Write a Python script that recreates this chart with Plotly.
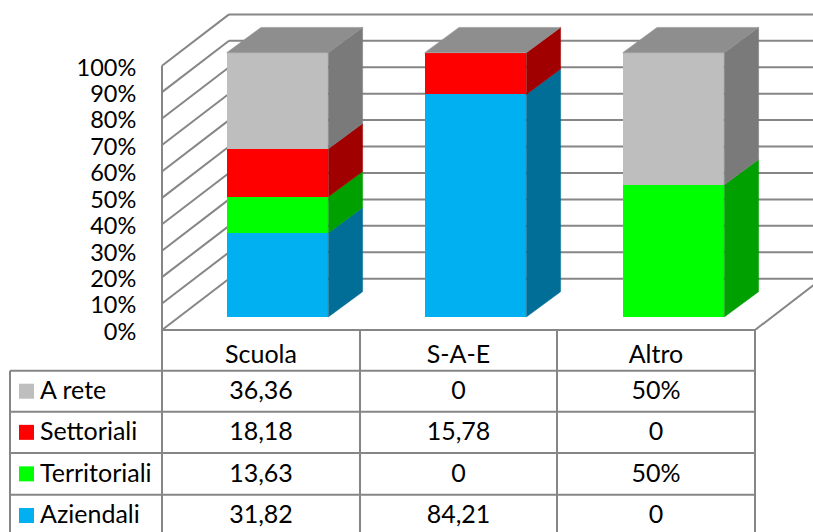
import plotly.graph_objects as go

CATEGORIES = ["Scuola", "S-A-E", "Altro"]
SERIES_NAMES = ["Aziendali", "Territoriali", "Settoriali", "A rete"]
AZIENDALI = [31.82, 84.21, 0]
TERRITORIALI = [13.63, 0, 50]
SETTORIALI = [18.18, 15.78, 0]
A_RETE = [36.36, 0, 50]
SERIES_VALUES = [AZIENDALI, TERRITORIALI, SETTORIALI, A_RETE]
# table cells as printed, the "50%" of Altro included
AZIENDALI_LABELS = ["31,82", "84,21", "0"]
TERRITORIALI_LABELS = ["13,63", "0", "50%"]
SETTORIALI_LABELS = ["18,18", "15,78", "0"]
A_RETE_LABELS = ["36,36", "0", "50%"]
SERIES_LABELS = [AZIENDALI_LABELS, TERRITORIALI_LABELS, SETTORIALI_LABELS, A_RETE_LABELS]
TICKS = [0, 10, 20, 30, 40, 50, 60, 70, 80, 90, 100]

FRONT_COLORS = ["#00B0F0", "#00FF00", "#FF0000", "#BEBEBE"]
SIDE_COLORS = ["#006E96", "#00A000", "#A00000", "#7A7A7A"]
TOP_COLOR = "#8E8E8E"
LINE_COLOR = "#868686"
FONT = "Lato"

WIDTH, HEIGHT = 813, 532


# the axes are set up so that one category step is 198 px and 100% is 264.3 px
def to_x(px):
    return (px - 277.5) / 198


def to_y(py):
    return (317 - py) / 2.643


BAR_WIDTH = 101.6 / 198
BAR_DX = 34.3 / 198
BAR_DY = 25.3 / 2.643
WALL_BASE = to_y(330)
WALL_DX = 67 / 198
WALL_DY = 51.3 / 2.643
WALL_LEFT = to_x(162)
FLOOR_RIGHT = to_x(755)
TICK_LABEL_SHIFT = 0.6

TABLE_COLS = [162, 360, 557, 755]
TABLE_ROWS = [330, 370.7, 411.7, 453, 494.7]
TABLE_LEFT = 10

fig = go.Figure()

# front faces
for name, values, color in zip(SERIES_NAMES, SERIES_VALUES, FRONT_COLORS):
    fig.add_trace(
        go.Bar(
            x=list(range(len(CATEGORIES))),
            y=values,
            name=name,
            width=BAR_WIDTH,
            marker=dict(color=color, line=dict(width=0)),
            hoverinfo="skip",
        )
    )

# side and top faces, from the same normalised stack
for i in range(len(CATEGORIES)):
    total = sum(values[i] for values in SERIES_VALUES)
    low = 0
    right = i + BAR_WIDTH / 2
    for values, color in zip(SERIES_VALUES, SIDE_COLORS):
        high = low + values[i] / total * 100
        if values[i] > 0:
            fig.add_trace(
                go.Scatter(
                    x=[right, right + BAR_DX, right + BAR_DX, right, right],
                    y=[low, low + BAR_DY, high + BAR_DY, high, low],
                    mode="lines",
                    fill="toself",
                    fillcolor=color,
                    line=dict(width=0.5, color=color),
                    hoverinfo="skip",
                )
            )
        low = high
    left = i - BAR_WIDTH / 2
    fig.add_trace(
        go.Scatter(
            x=[left, right, right + BAR_DX, left + BAR_DX, left],
            y=[100, 100, 100 + BAR_DY, 100 + BAR_DY, 100],
            mode="lines",
            fill="toself",
            fillcolor=TOP_COLOR,
            line=dict(width=0.5, color=TOP_COLOR),
            hoverinfo="skip",
        )
    )


def add_line(x0, y0, x1, y1):
    fig.add_shape(
        type="line",
        x0=x0,
        y0=y0,
        x1=x1,
        y1=y1,
        layer="below",
        line=dict(color=LINE_COLOR, width=2),
    )


# walls and gridlines
for tick in TICKS:
    y_front = WALL_BASE + tick
    add_line(WALL_LEFT, y_front, WALL_LEFT + WALL_DX, y_front + WALL_DY)
    add_line(WALL_LEFT + WALL_DX, y_front + WALL_DY, FLOOR_RIGHT + WALL_DX, y_front + WALL_DY)
add_line(WALL_LEFT, WALL_BASE, WALL_LEFT, WALL_BASE + 100)
add_line(FLOOR_RIGHT, WALL_BASE, FLOOR_RIGHT + WALL_DX, WALL_BASE + WALL_DY)

# data table grid
add_line(to_x(TABLE_COLS[0]), to_y(TABLE_ROWS[0]), to_x(TABLE_COLS[-1]), to_y(TABLE_ROWS[0]))
for row in TABLE_ROWS[1:]:
    add_line(to_x(TABLE_LEFT), to_y(row), to_x(TABLE_COLS[-1]), to_y(row))
for col in TABLE_COLS:
    add_line(to_x(col), to_y(TABLE_ROWS[0]), to_x(col), to_y(HEIGHT + 4))
add_line(to_x(TABLE_LEFT), to_y(TABLE_ROWS[1]), to_x(TABLE_LEFT), to_y(HEIGHT + 4))

# data table text, rows run top to bottom so the series are reversed
col_centers = [(a + b) / 2 for a, b in zip(TABLE_COLS, TABLE_COLS[1:])]
row_centers = [(a + b) / 2 + 1.5 for a, b in zip(TABLE_ROWS[1:], TABLE_ROWS[2:])] + [517]
text_font = dict(family=FONT, size=25, color="#000000")

fig.add_trace(
    go.Scatter(
        x=[to_x(c) for c in col_centers],
        y=[to_y(356.5)] * len(CATEGORIES),
        text=CATEGORIES,
        mode="text",
        textposition="middle center",
        textfont=text_font,
        hoverinfo="skip",
    )
)
for row_y, name, labels, color in zip(
    row_centers, SERIES_NAMES[::-1], SERIES_LABELS[::-1], FRONT_COLORS[::-1]
):
    fig.add_trace(
        go.Scatter(
            x=[to_x(c) for c in col_centers],
            y=[to_y(row_y)] * len(labels),
            text=labels,
            mode="text",
            textposition="middle center",
            textfont=text_font,
            hoverinfo="skip",
        )
    )
    fig.add_trace(
        go.Scatter(
            x=[to_x(26.5)],
            y=[to_y(row_y - 1.5)],
            mode="markers",
            marker=dict(symbol="square", size=15, color=color, line=dict(width=0)),
            hoverinfo="skip",
        )
    )
    fig.add_trace(
        go.Scatter(
            x=[to_x(40)],
            y=[to_y(row_y)],
            text=[name],
            mode="text",
            textposition="middle right",
            textfont=text_font,
            hoverinfo="skip",
        )
    )

fig.update_layout(
    barmode="stack",
    barnorm="percent",
    width=WIDTH,
    height=HEIGHT,
    margin=dict(l=0, r=0, t=0, b=0),
    paper_bgcolor="white",
    plot_bgcolor="white",
    showlegend=False,
    xaxis=dict(range=[to_x(0), to_x(WIDTH)], visible=False),
    yaxis=dict(
        range=[to_y(HEIGHT), to_y(0)],
        anchor="free",
        position=162 / WIDTH,
        tickmode="array",
        tickvals=[WALL_BASE + tick - TICK_LABEL_SHIFT for tick in TICKS],
        ticktext=[f"{tick}%" for tick in TICKS],
        ticks="outside",
        ticklen=21,
        tickcolor="rgba(0,0,0,0)",
        tickfont=dict(family=FONT, size=23.5, color="#000000"),
        showgrid=False,
        zeroline=False,
        showline=False,
    ),
)

fig.write_html(
    "out.html",
    config=dict(displayModeBar=False),
    post_script="document.body.style.margin='0';",
)
